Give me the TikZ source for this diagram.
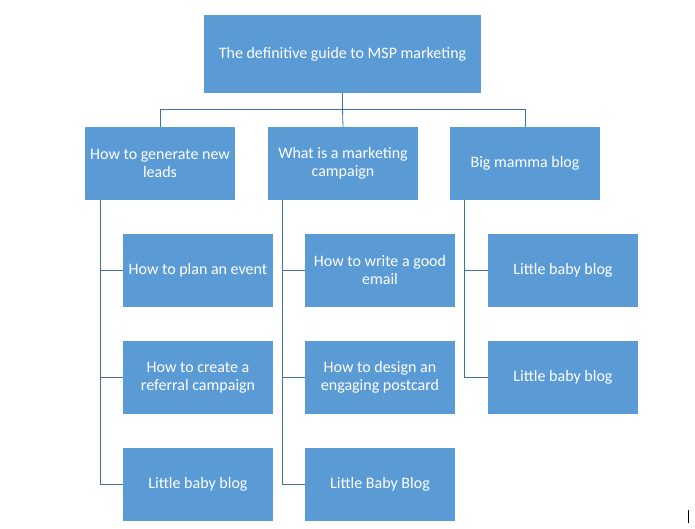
\documentclass[tikz,border=0pt]{standalone}
\usepackage{fontspec}
\setmainfont{Carlito}
\usepackage{tikz}
\usetikzlibrary{positioning,calc}
\definecolor{cBox}{HTML}{5B9BD5}
\definecolor{cLine}{HTML}{41719C}

\begin{document}
\begin{tikzpicture}[x=1pt,y=-1pt,
  font=\fontsize{16}{18}\selectfont,
  topic/.style={rectangle,fill=cBox,text=white,align=center,inner sep=2pt,
                minimum width=150pt,minimum height=73pt},
  root/.style={topic,minimum width=277pt,minimum height=78pt},
  link/.style={cLine,line width=0.8pt}]

\useasboundingbox (0,0) rectangle (695,529);

\node[root] (guide) at (342.5,54) {The definitive guide to MSP marketing};
\node[topic] (leads) at (160,163.5) {How to generate new\\leads};
\node[topic] (camp) at (343,163.5) {What is a marketing\\campaign};
\node[topic] (mamma) at (525,163.5) {Big mamma blog};

\node[topic] (leads1) at (198,270.5) {How to plan an event};
\node[topic] (leads2) at (198,377.5) {How to create a\\referral campaign};
\node[topic] (leads3) at (198,484.5) {Little baby blog};
\node[topic] (camp1) at (380,270.5) {How to write a good\\email};
\node[topic] (camp2) at (380,377.5) {How to design an\\engaging postcard};
\node[topic] (camp3) at (380,484.5) {Little Baby Blog};
\node[topic] (mamma1) at (563,270.5) {Little baby blog};
\node[topic] (mamma2) at (563,377.5) {Little baby blog};

\draw[link] (guide.south) -- ++(0,16.5) coordinate (bus);
\draw[link] (leads.north) |- (bus) -| (mamma.north);
\draw[link] (bus) -- (camp.north);

\foreach \k in {1,2,3} {
  \draw[link] ([xshift=16pt]leads.south west) |- (leads\k.west);
  \draw[link] ([xshift=15pt]camp.south west) |- (camp\k.west);
}
\foreach \k in {1,2}
  \draw[link] ([xshift=15pt]mamma.south west) |- (mamma\k.west);

% cursor mark
\draw[line width=1pt] (688,510) -- (688,523);
\end{tikzpicture}
\end{document}
